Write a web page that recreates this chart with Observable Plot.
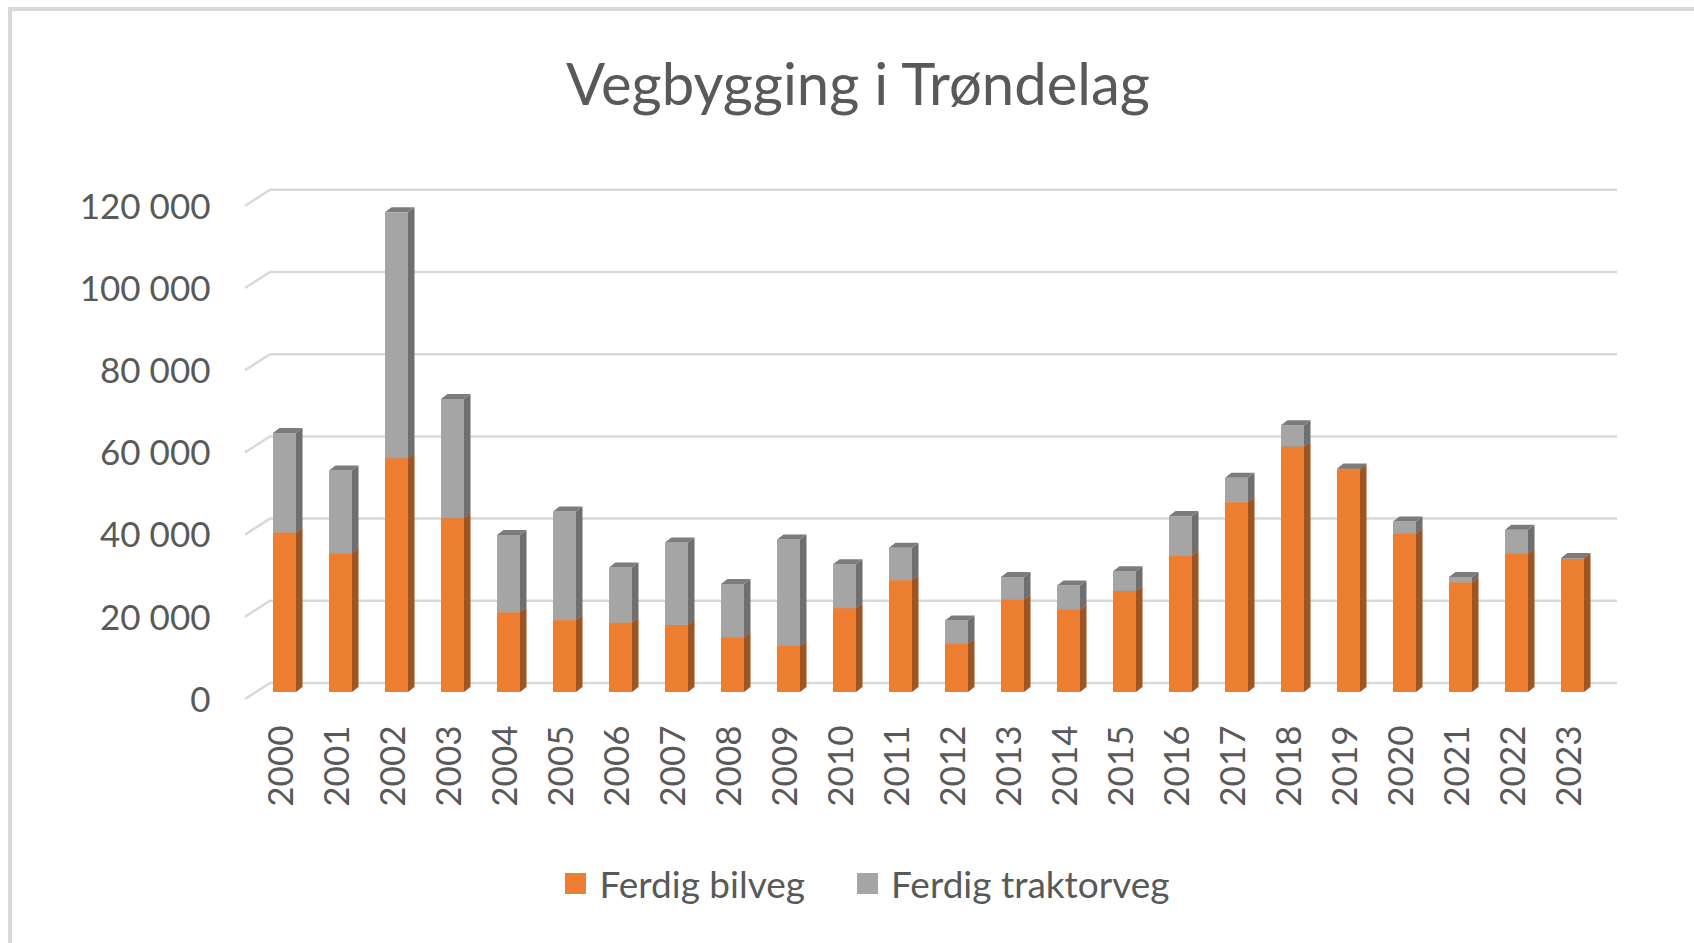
<!DOCTYPE html>
<html><head><meta charset="utf-8">
<script src="https://cdn.jsdelivr.net/npm/d3@7"></script>
<script src="https://cdn.jsdelivr.net/npm/@observablehq/plot@0.6"></script>
<style>
html,body{margin:0;padding:0;background:#fff;overflow:hidden;}
#wrap{position:relative;width:1694px;height:943px;font-family:Lato,"Open Sans",sans-serif;color:#595959;overflow:hidden;}
#border{position:absolute;left:8px;top:7px;width:1700px;height:950px;border-left:4px solid #d9d9d9;border-top:4px solid #d9d9d9;z-index:5;pointer-events:none;}
#title{position:absolute;top:54px;left:0;width:1716px;text-align:center;font-size:58px;line-height:1;white-space:nowrap;}
#chart{position:absolute;left:0;top:140px;}
#legend{position:absolute;top:865px;left:0;width:1735px;display:flex;justify-content:center;gap:52px;font-size:37px;line-height:1;white-space:nowrap;}
.item{display:flex;align-items:center;gap:13px;}
.sw{width:21px;height:21px;display:inline-block;}
</style>
</head>
<body>
<div id="wrap">
  <div id="border"></div>
  <div id="title">Vegbygging i Trøndelag</div>
  <div id="chart"></div>
  <div id="legend"></div>
</div>
<script>
const years = ["2000","2001","2002","2003","2004","2005","2006","2007","2008","2009","2010","2011","2012","2013","2014","2015","2016","2017","2018","2019","2020","2021","2022","2023"];
const bilveg = [38800,33800,56900,42300,19400,17500,16900,16300,13200,11200,20400,27200,11700,22400,20000,24600,33200,46200,59700,54100,38500,26700,33700,32400];
const traktorveg = [24200,20100,59800,29000,18800,26400,13400,20100,13100,25900,10700,7900,5700,5600,5900,4800,9600,5900,5200,300,3000,1300,5800,200];
const series = ["Ferdig bilveg","Ferdig traktorveg"];
const colors = ["#ED7D31","#A5A5A5"];
const yTicks = [0,20000,40000,60000,80000,100000,120000];
const yTickLabels = ["0","20 000","40 000","60 000","80 000","100 000","120 000"];

const rows = [];
series.forEach((s, k) => {
  const vals = k === 0 ? bilveg : traktorveg;
  years.forEach((yr, i) => rows.push({year: yr, serie: s, value: vals[i]}));
});

const SVGNS = "http://www.w3.org/2000/svg";
const DEPTH_X = 6.5, DEPTH_Y = 5;

function render3d(index, scales, values, dims, ctx, next) {
  const g = next(index, scales, values, dims, ctx);
  const rects = Array.from(g.querySelectorAll("rect"));
  for (const r of rects) {
    const x = +r.getAttribute("x"), y = +r.getAttribute("y");
    const w = +r.getAttribute("width"), h = +r.getAttribute("height");
    const fill = r.getAttribute("fill") || "#999";
    const c = d3.color(fill);
    const side = document.createElementNS(SVGNS, "polygon");
    side.setAttribute("points", `${x+w},${y+h} ${x+w},${y} ${x+w+DEPTH_X},${y-DEPTH_Y} ${x+w+DEPTH_X},${y+h-DEPTH_Y}`);
    side.setAttribute("fill", c.darker(1.1).formatHex());
    const top = document.createElementNS(SVGNS, "polygon");
    top.setAttribute("points", `${x},${y} ${x+DEPTH_X},${y-DEPTH_Y} ${x+w+DEPTH_X},${y-DEPTH_Y} ${x+w},${y}`);
    top.setAttribute("fill", c.darker(0.8).formatHex());
    r.after(side, top);
  }
  return g;
}

function renderGrid(index, scales, values, dims) {
  const {marginLeft, marginRight, width} = dims;
  const fx = marginLeft + 8.2, bx = marginLeft + 33.2, rx = width - marginRight - 3;
  const g = d3.create("svg:g").attr("fill", "none").attr("stroke", "#d9d9d9").attr("stroke-width", 2.5);
  for (const i of index) {
    const y = values.y ? values.y[i] : scales.y(yTicks[i]);
    g.append("path").attr("d", `M${fx},${y+7}L${bx},${y-9}H${rx}`);
  }
  return g.node();
}

const chart = Plot.plot({
  width: 1694, height: 700,
  marginLeft: 236.8, marginRight: 74, marginTop: 58.8, marginBottom: 148,
  style: {fontFamily: "Lato, 'Open Sans', sans-serif", fontSize: "35px", color: "#595959", background: "transparent"},
  x: {type: "band", domain: years, padding: 0.59, label: null},
  y: {domain: [0, 120000], label: null},
  color: {domain: series, range: colors},
  marks: [
    Plot.ruleY(yTicks, {render: renderGrid}),
    Plot.barY(rows, {x: "year", y: "value", fill: "serie", render: render3d}),
    Plot.axisY(yTicks, {tickSize: 0, tickPadding: 26.8, dy: 8, fontSize: 35, label: null, tickFormat: d => yTickLabels[yTicks.indexOf(d)]}),
    Plot.axisX({tickSize: 0, tickRotate: -90, tickPadding: 33, dx: -3, fontSize: 35, label: null})
  ]
});
document.getElementById("chart").appendChild(chart);

const legend = document.getElementById("legend");
series.forEach((s, k) => {
  const item = document.createElement("div");
  item.className = "item";
  const sw = document.createElement("span");
  sw.className = "sw";
  sw.style.background = colors[k];
  const t = document.createElement("span");
  t.textContent = s;
  item.append(sw, t);
  legend.append(item);
});
</script>
</body></html>
